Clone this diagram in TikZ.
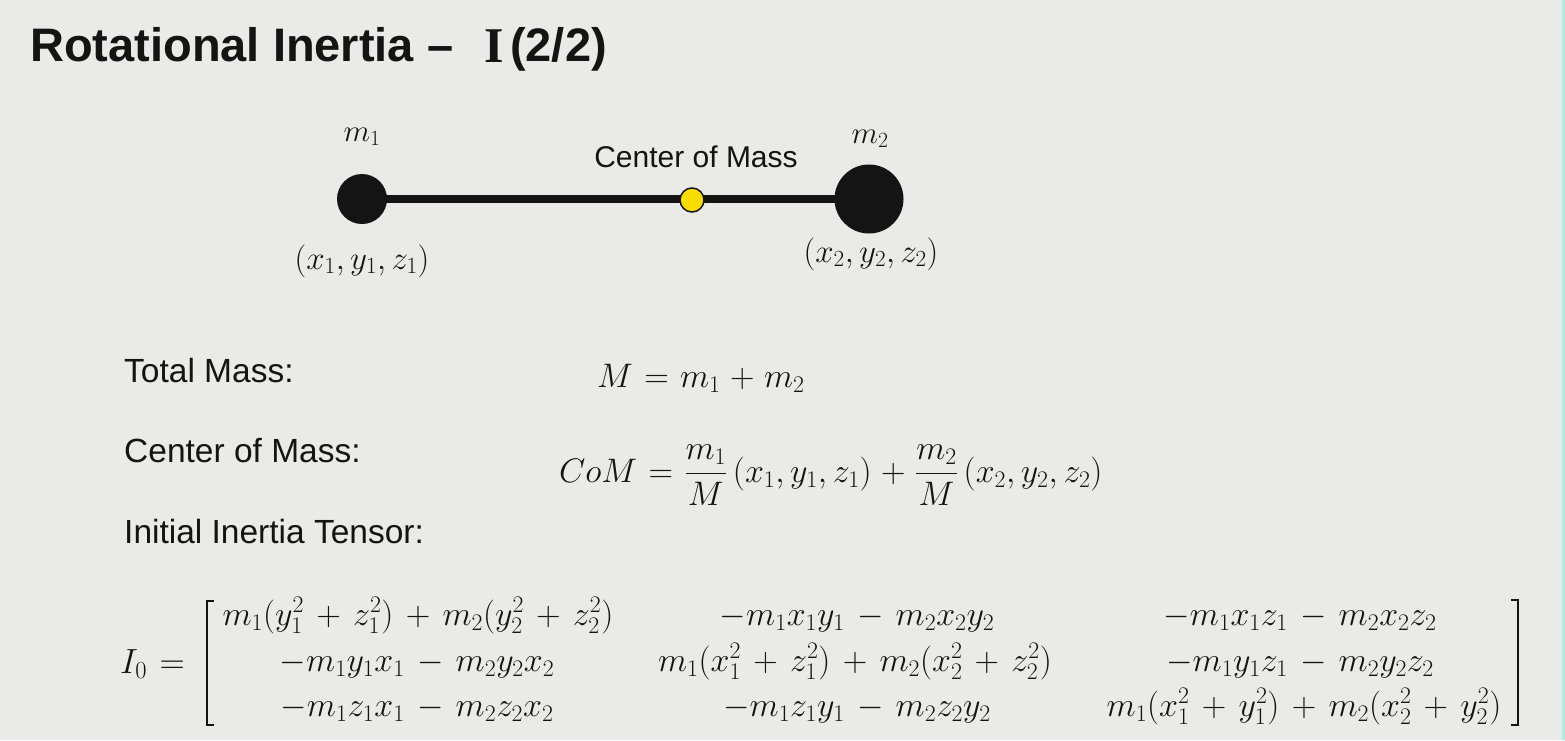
\RequirePackage{fix-cm}
\documentclass[tikz,border=0pt]{standalone}
\usepackage{fontspec}
\setmainfont{Liberation Sans}
\newfontfamily\serifI{Liberation Serif}
\usetikzlibrary{backgrounds}
\definecolor{bgcol}{RGB}{234,234,232}
\definecolor{comyellow}{RGB}{250,222,0}
\definecolor{edgecyan}{RGB}{170,238,225}
\definecolor{ink}{RGB}{20,20,20}
\newcommand{\eqspacing}{\medmuskip=5mu plus 2mu minus 2mu\thickmuskip=6mu plus 2mu}
\newcommand{\matspacing}{\medmuskip=6.5mu plus 2mu minus 2mu\thickmuskip=6.5mu plus 2mu}
\tikzset{
  mass/.style={circle, fill=ink, inner sep=0pt},
  lbl/.style={anchor=base, inner sep=0pt, text=ink, font=\fontsize{33}{40}\selectfont},
  txt/.style={anchor=base west, inner sep=0pt, text=ink, font=\fontsize{33.5}{40}\selectfont},
  eq/.style={anchor=base west, inner sep=0pt, text=ink, font=\fontsize{34}{40}\selectfont\eqspacing},
  ent/.style={anchor=base, inner sep=0pt, text=ink, font=\fontsize{34}{40}\selectfont\matspacing},
  ttl/.style={anchor=base west, inner sep=0pt, text=ink, font=\fontsize{47}{56}\selectfont\bfseries},
  barline/.style={line width=8pt, draw=ink},
  bracket/.style={line width=2.6pt, draw=ink},
}
\begin{document}
\begin{tikzpicture}[x=1pt,y=-1pt]
\useasboundingbox (0,0) rectangle (1565,740);
% title
\node[ttl] (t1) at (30,61) {Rotational Inertia –};
\node[ttl, font=\fontsize{50}{56}\selectfont\bfseries] (t2) at (484,62) {\serifI I};
\node[ttl] (t3) at (510,61) {(2/2)};
% dumbbell
\node[mass, minimum size=50pt] (m1) at (362,199) {};
\node[mass, minimum size=69pt] (m2) at (869,199) {};
\node[circle, fill=comyellow, draw=ink, line width=1.5pt, minimum size=24pt, inner sep=0pt] (com) at (692,200) {};
\node[lbl, font=\fontsize{31}{37}\selectfont] (m1lbl) at (362,141) {$m_1$};
\node[lbl, font=\fontsize{31}{37}\selectfont] (m2lbl) at (870,143) {$m_2$};
\node[lbl, font=\fontsize{30}{36}\selectfont] (comlbl) at (696,167) {Center of Mass};
\node[lbl] (p1) at (362,269) {$(x_1,y_1,z_1)$};
\node[lbl] (p2) at (871,262) {$(x_2,y_2,z_2)$};
% equations
\node[txt] (tm) at (124,382) {Total Mass:};
\node[eq] (tmeq) at (597,387) {$M = m_1 + m_2$};
\node[txt] (cm) at (124,462) {Center of Mass:};
\node[eq] (cmeq) at (559,482) {$\displaystyle CoM = \frac{m_1}{M}\,(x_1,y_1,z_1) + \frac{m_2}{M}\,(x_2,y_2,z_2)$};
\node[txt] (it) at (124,543) {Initial Inertia Tensor:};
\node[eq, font=\fontsize{35}{42}\selectfont\matspacing] (I0) at (120,673) {$I_0 =$};
% matrix entries
\node[ent] (e11) at (418,625) {$m_1(y_1^2+z_1^2)+m_2(y_2^2+z_2^2)$};
\node[ent] (e12) at (857,625) {$-m_1x_1y_1-m_2x_2y_2$};
\node[ent] (e13) at (1300,625) {$-m_1x_1z_1-m_2x_2z_2$};
\node[ent] (e21) at (417,671) {$-m_1y_1x_1-m_2y_2x_2$};
\node[ent] (e22) at (855,671) {$m_1(x_1^2+z_1^2)+m_2(x_2^2+z_2^2)$};
\node[ent] (e23) at (1300,671) {$-m_1y_1z_1-m_2y_2z_2$};
\node[ent] (e31) at (417,716) {$-m_1z_1x_1-m_2z_2x_2$};
\node[ent] (e32) at (857,716) {$-m_1z_1y_1-m_2z_2y_2$};
\node[ent] (e33) at (1304,716) {$m_1(x_1^2+y_1^2)+m_2(x_2^2+y_2^2)$};
% brackets
\draw[bracket] (214,601) -- (207,601) -- (207,725) -- (214,725);
\draw[bracket] (1511,600) -- (1518,600) -- (1518,725) -- (1511,725);
\fill[edgecyan] (1562,0) rectangle (1565,740);
\begin{scope}[on background layer]
  \fill[bgcol] (0,0) rectangle (1565,740);
  \draw[barline] (m1.center) -- (m2.center);
\end{scope}
\end{tikzpicture}
\end{document}
